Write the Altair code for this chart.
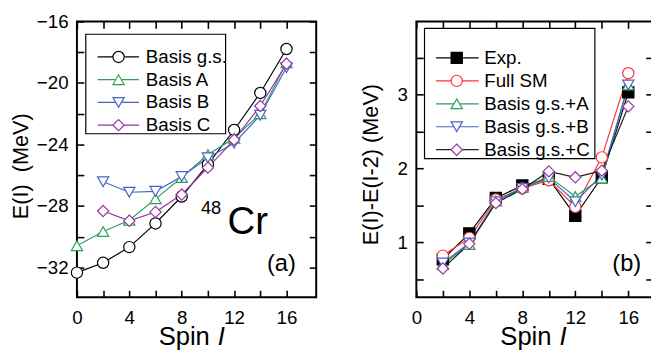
import altair as alt
import pandas as pd

# ---------------- data: panel (a) ----------------
spin_a = [0, 2, 4, 6, 8, 10, 12, 14, 16]
spin_from2 = [2, 4, 6, 8, 10, 12, 14, 16]
e_gs = [-32.34, -31.70, -30.68, -29.14, -27.39, -25.30, -23.06, -20.65, -17.79]
e_basisA = [-30.59, -29.67, -28.93, -27.54, -26.15, -24.66, -23.60, -22.00, -18.69]
e_basisB = [-26.43, -27.11, -27.05, -26.09, -24.87, -23.92, -22.10, -19.00]
e_basisC = [-28.33, -28.97, -28.40, -27.26, -25.51, -23.70, -21.50, -18.75]
names_a = ["Basis g.s.", "Basis A", "Basis B", "Basis C"]

# ---------------- data: panel (b) ----------------
de_exp = [0.77, 1.12, 1.60, 1.77, 1.86, 1.36, 1.88, 3.03]
de_full = [0.82, 1.06, 1.58, 1.73, 1.84, 1.48, 2.15, 3.29]
de_gsA = [0.70, 0.97, 1.56, 1.74, 1.89, 1.62, 1.87, 3.13]
de_gsB = [0.72, 0.99, 1.55, 1.73, 1.87, 1.55, 1.91, 3.13]
de_gsC = [0.645, 0.98, 1.53, 1.72, 1.96, 1.88, 1.97, 2.84]
names_b = ["Exp.", "Full SM", "Basis g.s.+A", "Basis g.s.+B", "Basis g.s.+C"]

# ---------------- ticks ----------------
x_ticks = [0, 2, 4, 6, 8, 10, 12, 14, 16]
ya_ticks = [-32, -30, -28, -26, -24, -22, -20, -18, -16]
yb_ticks = [0.5, 1, 1.5, 2, 2.5, 3, 3.5]

# ---------------- styles ----------------
BLACK, RED, GREEN, BLUE, PURPLE = "#000000", "#ff3333", "#2aa05a", "#4664c8", "#9933a0"
lcol_a = [BLACK, GREEN, BLUE, PURPLE]
mcol_a = [BLACK, GREEN, BLUE, PURPLE]
shape_a = ["circle", "triangle-up", "triangle-down", "diamond"]
fill_a = ["white", "white", "white", "white"]

lcol_b = [BLACK, RED, GREEN, BLUE, "#222222"]
mcol_b = [BLACK, RED, GREEN, BLUE, PURPLE]
shape_b = ["square", "circle", "triangle-up", "triangle-down", "diamond"]
fill_b = [BLACK, "white", "white", "white", "white"]

FONT = "Liberation Sans"
MSIZE = 130


def build(names, xs_list, ys_list, yname):
    rows = []
    for n, xs, ys in zip(names, xs_list, ys_list):
        for x, y in zip(xs, ys):
            rows.append({"I": x, yname: y, "series": n})
    return pd.DataFrame(rows)


df_a = build(names_a, [spin_a, spin_a, spin_from2, spin_from2],
             [e_gs, e_basisA, e_basisB, e_basisC], "E")
df_b = build(names_b, [spin_from2] * 5,
             [de_exp, de_full, de_gsA, de_gsB, de_gsC], "dE")


def ax(orient, values, label_expr=None, labels=True, title=None, **kw):
    d = dict(orient=orient, values=values, domain=False, grid=False,
             tickSize=7, tickWidth=1.6, tickColor="black", offset=-7,
             labels=labels, labelFontSize=19, labelFont=FONT, labelColor="black",
             labelOverlap=False, labelFlush=False, labelBound=False,
             title=title)
    if label_expr:
        d["labelExpr"] = label_expr
    d.update(kw)
    return alt.Axis(**d)


def one_row(**kw):
    return alt.Chart(pd.DataFrame({k: [v] for k, v in kw.items()} or {"a": [0]}))


def text_layer(txt, x, y, size, align="left", style="normal", baseline="alphabetic"):
    return one_row(t=txt).mark_text(
        align=align, baseline=baseline, fontSize=size, font=FONT,
        fontStyle=style, color="black"
    ).encode(x=alt.value(x), y=alt.value(y), text="t:N")


def legend_layers(names, lcol, mcol, shapes, fills, box, row0, step, lx1, lx2, mx, tx):
    """Framed legend: line segment + marker + label for each series."""
    layers = [one_row(a=0).mark_rect(fill="white", stroke="black", strokeWidth=1.2).encode(
        x=alt.value(box[0]), x2=alt.value(box[1]), y=alt.value(box[2]), y2=alt.value(box[3]))]
    for i, name in enumerate(names):
        ry = row0 + i * step
        layers.append(one_row(s=name).mark_rule(color=lcol[i], strokeWidth=1.2).encode(
            x=alt.value(lx1), x2=alt.value(lx2), y=alt.value(ry)))
        layers.append(one_row(s=name).mark_point(
            shape=shapes[i], filled=True, fill=fills[i], stroke=mcol[i],
            size=MSIZE, strokeWidth=1.2, opacity=1).encode(
            x=alt.value(mx), y=alt.value(ry)))
        layers.append(text_layer(name, tx, ry, 19, baseline="middle"))
    return layers


# invisible anchor fixing the top-left corner of the whole figure
anchor = one_row(a=0).mark_rule(opacity=0).encode(
    x=alt.value(-69), x2=alt.value(-69), y=alt.value(-10), y2=alt.value(-10))


def panel(df, yname, names, lcol, mcol, shapes, fills, xdom, ydom,
          yticks, ylab_expr, ytitle, title_x, title_y, width, extra):
    xs = alt.Scale(domain=xdom, nice=False, zero=False)
    ys = alt.Scale(domain=ydom, nice=False, zero=False)
    lines = alt.Chart(df).mark_line(strokeWidth=1.2).encode(
        x=alt.X("I:Q", scale=xs,
                axis=ax("bottom", x_ticks, "datum.value % 4 === 0 ? datum.label : ''",
                        labelPadding=12)),
        y=alt.Y(f"{yname}:Q", scale=ys,
                axis=ax("left", yticks, ylab_expr, labelPadding=9, title=ytitle,
                        titleFontSize=22, titleFont=FONT, titleFontWeight="normal",
                        titleColor="black", titleAngle=270, titleAlign="center",
                        titleBaseline="alphabetic", titleX=title_x, titleY=title_y)),
        color=alt.Color("series:N", scale=alt.Scale(domain=names, range=lcol), legend=None),
    )
    points = alt.Chart(df).mark_point(filled=True, size=MSIZE, strokeWidth=1.2,
                                      opacity=1).encode(
        x=alt.X("I:Q", scale=xs, axis=ax("top", x_ticks, labels=False)),
        y=alt.Y(f"{yname}:Q", scale=ys, axis=ax("right", yticks, labels=False)),
        shape=alt.Shape("series:N", scale=alt.Scale(domain=names, range=shapes), legend=None),
        stroke=alt.Stroke("series:N", scale=alt.Scale(domain=names, range=mcol), legend=None),
        fill=alt.Fill("series:N", scale=alt.Scale(domain=names, range=fills), legend=None),
    )
    layers = [lines, points] + extra
    return alt.layer(*layers).resolve_axis(x="independent", y="independent").properties(
        width=width, height=280)


extra_a = [
    anchor,
    text_layer("48", 126, 195.3, 18.5),
    text_layer("Cr", 153, 216.3, 39),
    text_layer("(a)", 222.3, 253, 24, align="right"),
    text_layer("Spin", 135, 328.7, 26, align="right"),
    text_layer("I", 143, 328.7, 26, style="italic"),
] + legend_layers(names_a, lcol_a, mcol_a, shape_a, fill_a,
                  box=(9, 151, 13, 114), row0=36, step=23.1,
                  lx1=21, lx2=63, mx=42.3, tx=70)

extra_b = [
    text_layer("(b)", 228.3, 253, 24, align="right"),
    text_layer("Spin", 137.3, 328.7, 26, align="right"),
    text_layer("I", 145.3, 328.7, 26, style="italic"),
] + legend_layers(names_b, lcol_b, mcol_b, shape_b, fill_b,
                  box=(8.3, 181.3, 7, 139.3), row0=37, step=23.3,
                  lx1=20, lx2=63.3, mx=41, tx=69)

panel_a = panel(df_a, "E", names_a, lcol_a, mcol_a, shape_a, fill_a,
                [0, 18.27], [-33.94, -16], ya_ticks,
                "datum.value % 4 === 0 ? datum.label : ''",
                "E(I)\u00a0 (MeV)", -57, 146.5, 243, extra_a)
panel_b = panel(df_b, "dE", names_b, lcol_b, mcol_b, shape_b, fill_b,
                [0, 17.84], [0.257, 3.99], yb_ticks,
                "datum.value % 1 === 0 ? toString(datum.value) : ''",
                "E(I)-E(I-2) (MeV)", -46.8, 144.8, 240, extra_b)

chart = alt.hconcat(panel_a, panel_b, spacing=101.7, bounds="flush").resolve_scale(
    color="independent", shape="independent", stroke="independent",
    fill="independent", x="independent", y="independent"
).properties(
    padding={"left": 0, "top": 0, "right": -4, "bottom": 0}
).configure(font=FONT).configure_view(stroke="black", strokeWidth=2)

chart.save("out.html", embed_options={"renderer": "svg", "actions": False})
